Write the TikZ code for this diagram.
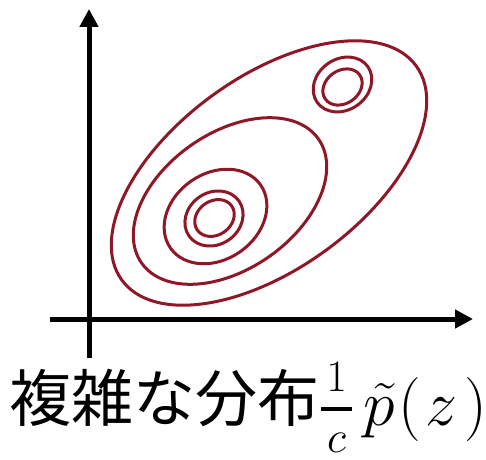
\RequirePackage{fix-cm}
\documentclass[tikz,border=0pt]{standalone}
\usepackage{amsmath}
\usepackage{fontspec}
\newfontfamily\jpfont{Noto Sans CJK JP}
\usetikzlibrary{arrows.meta}
\definecolor{contour}{RGB}{142,24,40}
\tikzset{
  axis/.style={line width=5pt,-{Triangle[width=18pt,length=18pt]}},
  level/.style={draw=contour,line width=3pt},
  txt/.style={anchor=base west,inner sep=0pt},
}
\begin{document}
\begin{tikzpicture}[x=1pt,y=1pt]
\useasboundingbox (0,0) rectangle (486,459);
% axes
\coordinate (ybot) at (89,101);
\coordinate (ytop) at (89,450);
\coordinate (xleft) at (50,140);
\coordinate (xright) at (473,140);
\draw[axis] (ybot) -- (ytop);
\draw[axis] (xleft) -- (xright);
% contours (main mode)
\draw[level,rotate around={36:(269,286)}] (269,286) ellipse [x radius=182,y radius=96];
\draw[level,rotate around={35:(230,258)}] (230,258) ellipse [x radius=108,y radius=68];
\draw[level,rotate around={35:(215.5,242.5)}] (215.5,242.5) ellipse [x radius=55,y radius=43];
\draw[level,rotate around={35:(214,240.5)}] (214,240.5) ellipse [x radius=30.5,y radius=26];
\draw[level,rotate around={35:(214.5,241)}] (214.5,241) ellipse [x radius=21,y radius=17];
% contours (second mode)
\draw[level,rotate around={35:(342.5,374.5)}] (342.5,374.5) ellipse [x radius=31,y radius=25.5];
\draw[level,rotate around={35:(342.5,372)}] (342.5,372) ellipse [x radius=21,y radius=16.5];
% label
\node[txt,font=\fontsize{62}{70}\selectfont\jpfont] (label) at (9,38) {複雑な分布};
\node[txt,font=\fontsize{64}{72}\selectfont] (formula) at (320,34)
  {$\genfrac{}{}{3.5pt}{1}{\mkern2mu 1\mkern2mu\rule[-12pt]{0pt}{12pt}}{\mkern2mu c\mkern2mu\rule{0pt}{38pt}}\mkern3mu\tilde{p}\mkern1mu(\mkern1mu z\mkern2mu)$};
\end{tikzpicture}
\end{document}
